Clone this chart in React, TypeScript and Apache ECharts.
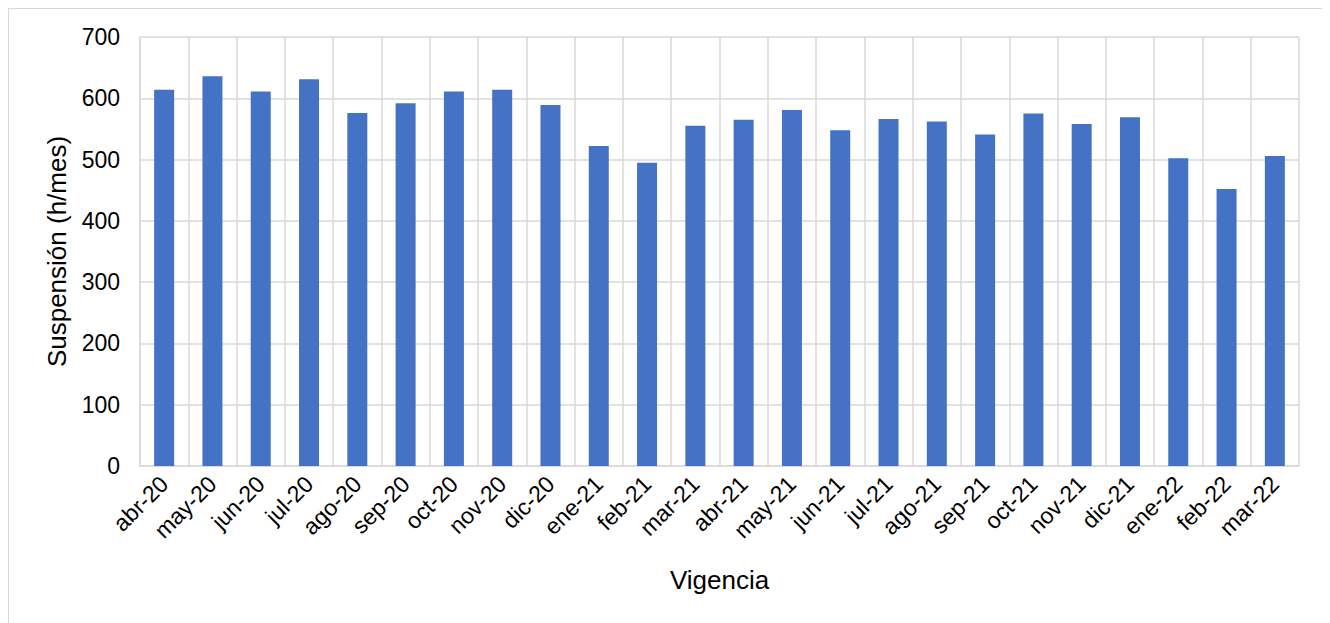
import React, { useEffect, useRef } from "react";
import * as echarts from "echarts";

const categories = [
  "abr-20", "may-20", "jun-20", "jul-20", "ago-20", "sep-20", "oct-20", "nov-20",
  "dic-20", "ene-21", "feb-21", "mar-21", "abr-21", "may-21", "jun-21", "jul-21",
  "ago-21", "sep-21", "oct-21", "nov-21", "dic-21", "ene-22", "feb-22", "mar-22",
];
const suspension = [
  614, 636, 611, 631, 576, 592, 611, 614,
  589, 522, 495, 555, 565, 581, 548, 566,
  562, 541, 575, 558, 569, 502, 452, 506,
];
const yTicks = { min: 0, max: 700, interval: 100 };
const yTitle = "Suspensión (h/mes)";
const xTitle = "Vigencia";

const FONT = "Liberation Sans, Arial, sans-serif";

export default function App() {
  const ref = useRef<HTMLDivElement>(null);
  useEffect(() => {
    document.documentElement.style.overflow = "hidden";
    const chart = echarts.init(ref.current!, null, { renderer: "svg" });
    chart.setOption({
      animation: false,
      textStyle: { fontFamily: FONT },
      grid: { left: 131, top: 28, right: 28, bottom: 156, containLabel: false },
      xAxis: {
        type: "category",
        data: categories,
        boundaryGap: true,
        name: xTitle,
        nameLocation: "middle",
        nameGap: 101,
        nameTextStyle: { fontSize: 26, color: "#000", fontFamily: FONT },
        axisLine: { show: true, lineStyle: { color: "#d9d9d9", width: 1.5 } },
        axisTick: { show: false },
        splitLine: { show: true, interval: 0, lineStyle: { color: "#d9d9d9", width: 1.5 } },
        axisLabel: {
          interval: 0,
          rotate: 45,
          fontSize: 23,
          color: "#000",
          fontFamily: FONT,
          margin: 14,
        },
      },
      yAxis: {
        type: "value",
        min: yTicks.min,
        max: yTicks.max,
        interval: yTicks.interval,
        name: yTitle,
        nameLocation: "middle",
        nameGap: 70,
        nameRotate: 90,
        nameTextStyle: { fontSize: 26, color: "#000", fontFamily: FONT },
        axisLine: { show: true, lineStyle: { color: "#d9d9d9", width: 1.5 } },
        axisTick: { show: false },
        splitLine: { show: true, lineStyle: { color: "#d9d9d9", width: 1.5 } },
        axisLabel: { fontSize: 23, color: "#000", fontFamily: FONT, margin: 20 },
      },
      series: [
        {
          type: "bar",
          data: suspension,
          barWidth: 20,
          itemStyle: { color: "#4472C4" },
        },
      ],
    });
    return () => chart.dispose();
  }, []);
  return (
    <div
      style={{
        width: 1321,
        height: 615,
        boxSizing: "border-box",
        borderTop: "1.5px solid #d9d9d9",
        borderLeft: "1.5px solid #d9d9d9",
        borderRight: "1.5px solid #d9d9d9",
        background: "#fff",
      }}
    >
      <div ref={ref} style={{ width: 1318, height: 613 }} />
    </div>
  );
}
